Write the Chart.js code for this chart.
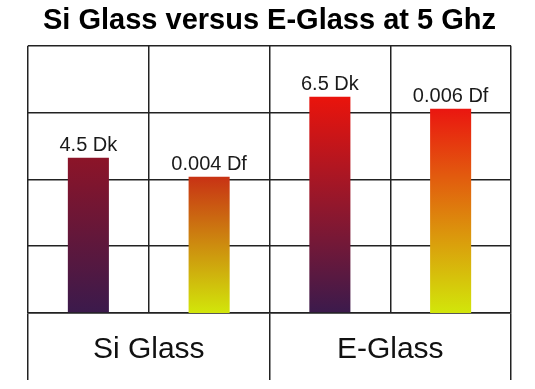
<!DOCTYPE html>
<html>
<head>
<meta charset="utf-8">
<script src="https://cdn.jsdelivr.net/npm/chart.js@4"></script>
<style>
html,body{margin:0;padding:0;background:#fff;}
#wrap{width:535px;height:389px;}
</style>
</head>
<body>
<div id="wrap"><canvas id="c" width="535" height="389"></canvas></div>
<script>
// ---- data ----
const categories = ['Si Glass', 'E-Glass'];
const dkValues = [4.5, 6.5];
const dfValues = [0.004, 0.006];
const dkUnit = 'Dk';
const dfUnit = 'Df';
const chartTitle = 'Si Glass versus E-Glass at 5 Ghz';

// ---- styles ----
const dkTopColors = ['#8c1428', '#ea140c'];
const dkBottomColor = '#3b1a4c';
const dfTopColors = ['#c83214', '#ea1610'];
const dfBottomColor = '#d2e60a';
const FONT = "'Liberation Sans', Arial, Helvetica, sans-serif";
const DK_MIN = -0.58, DK_MAX = 8.17;
const DF_MAX = 0.00785;

function barGradient(topColors, bottomColor, axisId) {
  return function(ctx) {
    const chart = ctx.chart;
    const area = chart.chartArea;
    const fallback = topColors[ctx.dataIndex] || topColors[0];
    if (!area || ctx.type !== 'data') return fallback;
    const scale = chart.scales[axisId];
    const v = ctx.dataset.data[ctx.dataIndex];
    const yTop = scale.getPixelForValue(v);
    const yBot = scale.getPixelForValue(scale.min);
    if (!isFinite(yTop) || !isFinite(yBot) || yTop === yBot) return fallback;
    const g = chart.ctx.createLinearGradient(0, yTop, 0, yBot);
    g.addColorStop(0, fallback);
    g.addColorStop(1, bottomColor);
    return g;
  };
}

const valueLabels = {
  id: 'valueLabels',
  afterDatasetsDraw(chart) {
    const ctx = chart.ctx;
    ctx.save();
    ctx.font = '20px ' + FONT;
    ctx.fillStyle = '#1a1a1a';
    ctx.textAlign = 'center';
    ctx.textBaseline = 'alphabetic';
    chart.data.datasets.forEach((ds, di) => {
      const meta = chart.getDatasetMeta(di);
      meta.data.forEach((bar, i) => {
        const txt = ds.data[i] + ' ' + ds.unit;
        ctx.fillText(txt, bar.x, bar.y - 7);
      });
    });
    ctx.restore();
  }
};

const gridColor = '#222';
const gridW = 1.5;

new Chart(document.getElementById('c'), {
  type: 'bar',
  data: {
    labels: categories,
    datasets: [
      {
        label: 'Dk', unit: dkUnit, data: dkValues, yAxisID: 'y',
        base: DK_MIN,
        backgroundColor: barGradient(dkTopColors, dkBottomColor, 'y'),
        borderWidth: 0,
        barPercentage: 0.34, categoryPercentage: 1
      },
      {
        label: 'Df', unit: dfUnit, data: dfValues, yAxisID: 'y2',
        backgroundColor: barGradient(dfTopColors, dfBottomColor, 'y2'),
        borderWidth: 0,
        barPercentage: 0.34, categoryPercentage: 1
      }
    ]
  },
  options: {
    responsive: false,
    animation: false,
    layout: { padding: { left: 28, right: 24, top: 0, bottom: 9 } },
    plugins: {
      legend: { display: false },
      tooltip: { enabled: false },
      title: {
        display: true,
        text: chartTitle,
        color: '#000',
        font: { family: FONT, size: 29, weight: 'bold' },
        padding: { top: 4, bottom: 7 }
      }
    },
    scales: {
      x: {
        type: 'category',
        position: 'bottom',
        offset: true,
        grid: { offset: true, color: gridColor, lineWidth: gridW, drawTicks: true, tickLength: 67, tickColor: gridColor, tickWidth: gridW },
        border: { display: true, color: gridColor, width: gridW },
        ticks: { color: '#111', font: { family: FONT, size: 30 }, padding: -48, maxRotation: 0 },
        afterFit(scale) { scale.height = 67; }
      },
      x2: {
        type: 'category',
        position: 'bottom',
        labels: categories,
        offset: true,
        grid: { offset: false, color: gridColor, lineWidth: gridW, drawTicks: false },
        border: { display: false },
        ticks: { display: false },
        afterFit(scale) { scale.height = 0; }
      },
      y: {
        type: 'linear',
        position: 'left',
        min: DK_MIN, max: DK_MAX,
        grid: { color: gridColor, lineWidth: gridW, drawTicks: false },
        border: { display: false },
        ticks: { display: false },
        afterBuildTicks(scale) {
          const t = [];
          for (let i = 0; i <= 4; i++) t.push({ value: DK_MIN + i * (DK_MAX - DK_MIN) / 4 });
          scale.ticks = t;
        },
        afterFit(scale) { scale.width = 0; }
      },
      y2: {
        type: 'linear',
        position: 'right',
        display: false,
        min: 0, max: DF_MAX
      }
    }
  },
  plugins: [valueLabels]
});
</script>
</body>
</html>
